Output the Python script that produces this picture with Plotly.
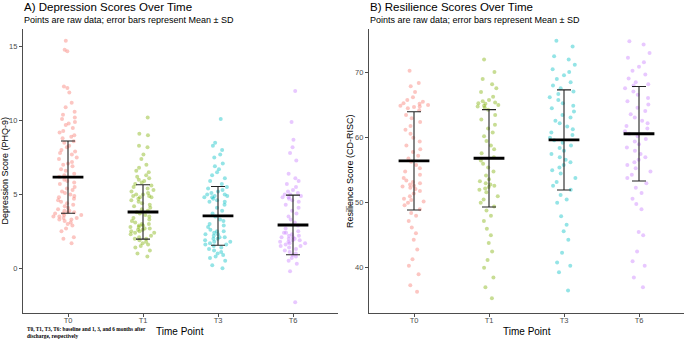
import plotly.graph_objects as go

time_points = ["T0", "T1", "T3", "T6"]
colors = ["#F8766D", "#7CAE00", "#00BFC4", "#C77CFF"]

dep_T0 = [15.4,14.8,14.7,12.3,12.2,11.9,11.2,10.9,10.6,10.4,10.2,10.1,9.9,9.8,9.7,9.5,9.3,9.2,9.0,8.9,8.8,8.6,8.5,8.3,8.2,8.0,7.9,7.8,7.7,7.5,7.4,7.2,7.1,7.0,6.9,6.7,6.6,6.4,6.3,6.2,6.0,5.9,5.8,5.7,5.5,5.4,5.3,5.2,5.1,5.0,4.9,4.8,4.7,4.6,4.5,4.4,4.3,4.2,4.1,4.0,3.9,3.9,3.8,3.8,3.7,3.7,3.6,3.6,3.5,3.5,3.4,3.4,3.3,3.3,3.2,3.1,3.0,2.9,2.7,2.5,2.1,2.0,1.7]
dep_T1 = [10.2,9.0,9.1,8.2,8.3,7.7,7.4,7.0,6.8,6.6,6.5,6.3,6.2,6.1,6.0,5.9,5.8,5.7,5.6,5.5,5.4,5.3,5.2,5.1,5.0,5.0,4.9,4.9,4.8,4.8,4.7,4.6,4.5,4.4,4.3,4.2,4.1,4.0,3.9,3.8,3.7,3.6,3.5,3.4,3.3,3.2,3.1,3.0,3.0,2.9,2.9,2.8,2.8,2.7,2.7,2.6,2.6,2.5,2.5,2.4,2.4,2.3,2.2,2.1,2.0,2.0,1.9,1.8,1.7,1.6,1.5,1.4,1.2,1.0,0.8]
dep_T3 = [10.1,8.5,8.3,8.0,7.7,7.5,7.1,6.9,6.7,6.5,6.3,6.1,5.9,5.7,5.5,5.4,5.3,5.2,5.1,5.0,5.0,4.9,4.9,4.8,4.8,4.7,4.6,4.5,4.5,4.3,4.1,3.9,3.7,3.5,3.3,3.2,3.0,2.9,2.8,2.6,2.5,2.5,2.4,2.3,2.3,2.2,2.1,2.1,2.0,2.0,1.9,1.8,1.8,1.7,1.6,1.6,1.5,1.4,1.3,1.2,1.1,1.0,0.9,0.8,0.7,0.5,0.2,0.0]
dep_T6 = [12.0,9.9,8.7,8.2,7.8,7.3,6.4,6.1,5.9,5.7,5.5,5.3,5.2,5.1,5.0,5.0,4.9,4.8,4.8,4.7,4.6,4.5,4.3,4.1,3.9,3.7,3.5,3.3,3.1,2.9,2.7,2.5,2.4,2.4,2.3,2.2,2.2,2.1,2.1,2.0,2.0,1.9,1.9,1.8,1.8,1.7,1.7,1.6,1.5,1.5,1.4,1.3,1.2,1.1,1.0,0.9,0.8,0.7,0.5,0.3,-0.2,-2.3]

res_T0 = [70.3,68.4,67.9,67.0,66.2,65.8,65.5,65.3,65.2,65.0,64.9,64.8,64.7,64.5,64.2,63.5,63.0,62.4,61.8,61.2,60.6,60.0,59.4,58.8,58.2,57.8,57.2,56.8,56.3,55.8,55.3,54.8,54.3,53.8,53.4,53.2,53.0,52.8,52.6,52.5,52.3,52.1,51.8,51.4,51.0,50.6,50.4,50.2,50.0,49.6,49.0,48.4,48.0,47.2,46.2,45.3,44.3,42.8,41.3,40.3,39.0,37.3,36.3]
res_T1 = [72.0,70.1,69.0,68.2,67.6,67.0,66.3,65.8,65.6,65.4,65.3,65.2,65.0,64.9,64.8,64.6,64.3,63.5,62.8,62.0,61.4,60.8,60.2,59.5,58.8,58.2,57.6,57.0,56.5,56.0,55.4,54.8,54.2,53.6,53.3,53.0,52.8,52.6,52.4,52.2,52.0,51.6,51.0,50.5,50.0,49.4,48.8,48.0,47.2,46.0,45.0,43.8,42.5,41.2,40.0,38.5,37.0,35.3]
res_T3 = [74.9,74.0,72.5,72.0,71.2,70.5,70.1,69.6,69.0,68.5,68.0,67.6,67.1,66.7,66.2,65.8,65.3,64.9,64.5,64.0,63.5,63.1,62.6,62.2,61.7,61.3,60.8,60.4,60.0,59.6,59.2,58.8,58.4,58.0,57.5,57.0,56.6,56.2,55.8,55.4,55.0,54.5,53.8,53.2,52.6,52.0,51.2,50.5,50.0,47.9,46.6,45.6,44.3,42.3,40.8,40.3,39.3,36.5]
res_T6 = [74.8,74.3,73.0,72.3,71.6,70.9,70.3,69.7,69.1,68.5,68.2,68.0,67.6,67.1,66.6,66.1,65.6,65.1,64.6,64.1,63.6,63.1,62.6,62.2,61.8,61.4,61.0,60.6,60.2,59.8,59.4,59.0,58.5,58.0,57.5,57.0,56.6,56.2,55.8,55.3,54.8,54.3,53.8,53.0,52.3,51.5,50.6,49.8,49.0,45.5,45.0,42.5,41.0,40.3,38.5,37.0]

dep_mean = [6.17, 3.81, 3.55, 2.93]
dep_sd = [2.45, 1.84, 1.99, 2.02]
res_mean = [56.42, 56.83, 59.65, 60.6]
res_sd = [7.55, 7.48, 7.7, 7.27]

dep_groups = [dep_T0, dep_T1, dep_T3, dep_T6]
res_groups = [res_T0, res_T1, res_T3, res_T6]


def rgba(hexc, a):
    h = hexc.lstrip("#")
    return "rgba(%d,%d,%d,%.2f)" % (int(h[0:2], 16), int(h[2:4], 16), int(h[4:6], 16), a)


fig = go.Figure()

for panel, (groups, means, sds) in enumerate([(dep_groups, dep_mean, dep_sd), (res_groups, res_mean, res_sd)]):
    xa = "x" if panel == 0 else "x2"
    ya = "y" if panel == 0 else "y2"
    for tp, vals, col in zip(time_points, groups, colors):
        fig.add_trace(go.Box(
            x=[tp] * len(vals), y=vals, xaxis=xa, yaxis=ya,
            boxpoints="all", jitter=1, pointpos=0, width=0.4,
            fillcolor="rgba(0,0,0,0)", line=dict(width=0, color="rgba(0,0,0,0)"),
            marker=dict(size=4, color=rgba(col, 0.42), line=dict(width=0)),
            showlegend=False, hoverinfo="y",
        ))
    fig.add_trace(go.Scatter(
        x=time_points, y=means, xaxis=xa, yaxis=ya, mode="markers",
        marker=dict(symbol="line-ew", size=22, line=dict(width=2.8, color="black"), color="black"),
        error_y=dict(type="data", array=sds, visible=True, color="#222222", thickness=1.1, width=7),
        showlegend=False,
    ))

axis_common = dict(showline=True, linecolor="#4d4d4d", linewidth=1.3, ticks="outside", ticklen=3,
                   tickcolor="#4d4d4d", tickwidth=1, showgrid=False, zeroline=False,
                   tickfont=dict(family="Liberation Sans", size=7.5, color="#4D4D4D"))

W, H = 685, 340
fig.update_layout(
    width=W, height=H, margin=dict(l=0, r=0, t=0, b=0),
    plot_bgcolor="white", paper_bgcolor="white", boxmode="overlay",
    xaxis=dict(domain=[23 / W, 338 / W], type="category", range=[-0.6, 3.6], anchor="y",
               ticklabelstandoff=-3, **axis_common),
    yaxis=dict(domain=[1 - 313.3 / H, 1 - 29 / H], range=[-3.05, 16.2], tickvals=[0, 5, 10, 15], anchor="x", **axis_common),
    xaxis2=dict(domain=[369 / W, 684 / W], type="category", range=[-0.6, 3.6], anchor="y2",
                ticklabelstandoff=-3, **axis_common),
    yaxis2=dict(domain=[1 - 313.3 / H, 1 - 29 / H], range=[33.0, 76.7], tickvals=[40, 50, 60, 70], anchor="x2", **axis_common),
)

def ann(text, xpx, ypx, size, xanchor="left", yanchor="middle", angle=0, family="Liberation Sans", color="#000000"):
    fig.add_annotation(text=text, x=xpx / W, y=1 - ypx / H, xref="paper", yref="paper",
                       xanchor=xanchor, yanchor=yanchor, showarrow=False, textangle=angle, align="left",
                       font=dict(family=family, size=size, color=color))

ann("A) Depression Scores Over Time", 22, 6.5, 11.5)
ann("Points are raw data; error bars represent Mean ± SD", 22, 19.5, 9)
ann("B) Resilience Scores Over Time", 368, 6.5, 11.5)
ann("Points are raw data; error bars represent Mean ± SD", 368, 19.5, 9)
ann("Time Point", 180.5, 331, 10, xanchor="center")
ann("Time Point", 526.5, 331, 10, xanchor="center")
ann("Depression Score (PHQ-9)", 4.5, 171, 9, xanchor="center", angle=-90)
ann("Resilience Score (CD-RISC)", 350, 171, 9, xanchor="center", angle=-90)
ann("<b>T0, T1, T3, T6: baseline and 1, 3, and 6 months after<br>discharge, respectively</b>", 25, 332, 5.3,
    family="Liberation Serif")

fig.write_html("out.html")
